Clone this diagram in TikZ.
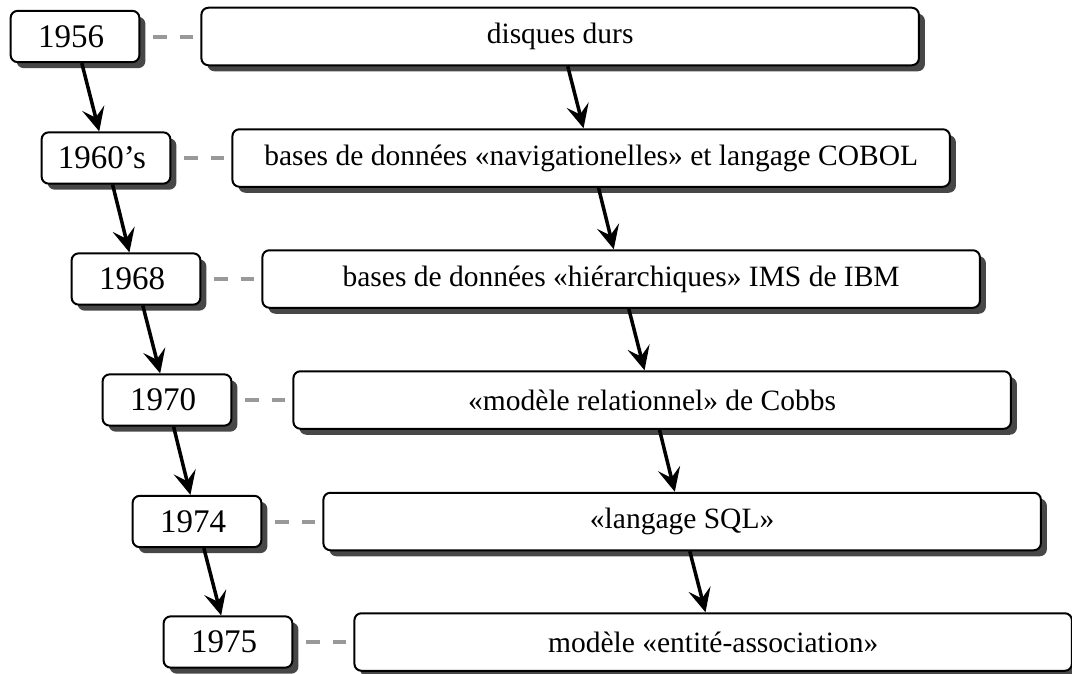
\documentclass[tikz,border=0pt]{standalone}
\usepackage{fontspec}
\setmainfont{Liberation Serif}
\usepackage{tikz}
\usetikzlibrary{arrows.meta, positioning, shadows}

\tikzset{
  boxshadow/.style={drop shadow={shadow xshift=2.4pt, shadow yshift=-2.4pt, fill=black!72, opacity=1}},
  yearbox/.style={draw, line width=0.8pt, rounded corners=2.8pt, fill=white, boxshadow,
    minimum width=51.5pt, minimum height=20.5pt, inner sep=0pt, font=\fontsize{13.2}{15}\selectfont,
    execute at end node=\kern3.2pt},
  eventbox/.style={draw, line width=0.8pt, rounded corners=2.8pt, fill=white, boxshadow,
    minimum width=287pt, minimum height=23pt, inner sep=0pt, font=\fontsize{11.8}{14}\selectfont},
  nextarrow/.style={-{Stealth[length=9.5pt, width=9pt, inset=3.8pt]}, line width=1.4pt},
  linkline/.style={line width=1.6pt, black!40, dash pattern=on 5.6pt off 5.2pt,
    shorten <=5.2pt, shorten >=2.8pt}
}

\begin{document}
\begin{tikzpicture}[x=0.4pt, y=-0.4pt]
  \useasboundingbox (0,0) rectangle (1072,673);

  % Nodes
  \node[yearbox] (y1) at (75,36.5) {1956};
  \node[yearbox] (y2) at (106,158) {1960's};
  \node[yearbox] (y3) at (136,279) {1968};
  \node[yearbox] (y4) at (167,400) {1970};
  \node[yearbox] (y5) at (197,521.5) {1974};
  \node[yearbox] (y6) at (228,642) {1975};

  \node[eventbox, right=24pt of y1] (e1) {disques durs};
  \node[eventbox, right=24pt of y2] (e2) {bases de données «navigationelles» et langage COBOL};
  \node[eventbox, right=24pt of y3] (e3) {bases de données «hiérarchiques» IMS de IBM};
  \node[eventbox, right=24pt of y4] (e4) {«modèle relationnel» de Cobbs};
  \node[eventbox, right=24pt of y5] (e5) {«langage SQL»};
  \node[eventbox, right=24pt of y6] (e6) {modèle «entité-association»};

  % Links year -- event
  \foreach \i in {1,...,6}
    \draw[linkline] (y\i) -- (e\i);

  % Arrows
  \foreach \i/\j in {1/2, 2/3, 3/4, 4/5, 5/6} {
    \draw[nextarrow] (y\i) -- (y\j);
    \draw[nextarrow] (e\i) -- (e\j);
  }
\end{tikzpicture}
\end{document}
